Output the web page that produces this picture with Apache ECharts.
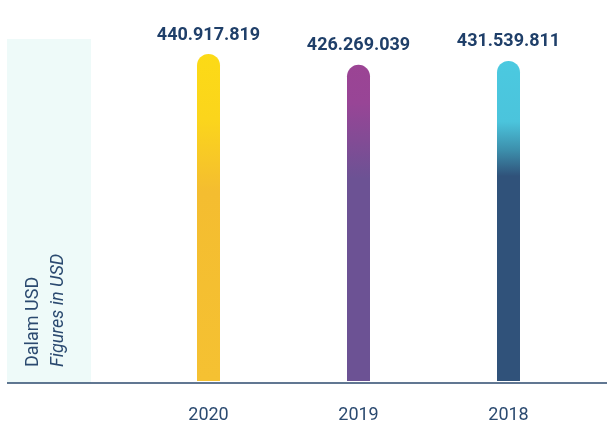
<!DOCTYPE html>
<html>
<head>
<meta charset="UTF-8">
<title>Figures in USD</title>
<script src="https://cdn.jsdelivr.net/npm/echarts@6/dist/echarts.min.js"></script>
<style>
  html, body { margin: 0; padding: 0; background: #fff; }
</style>
</head>
<body>
<div id="main" style="width: 607px;height:424px;"></div>
<script type="text/javascript">
// data
var years = ['2020', '2019', '2018'];
var values = [440917819, 426269039, 431539811];
// gradient stops per bar: [offset, colour]
var barStops = [
    [[0, '#fcda16'], [0.2, '#fbd51c'], [0.42, '#f4bd30'], [1, '#f5c132']],
    [[0, '#9b4494'], [0.12, '#984596'], [0.36, '#6c5294'], [1, '#6c5294']],
    [[0, '#4bc9e0'], [0.19, '#4bc4dc'], [0.28, '#3c8eab'], [0.36, '#30527a'], [1, '#30527a']]
];

var textBlue = '#2b4a70';

function dotted(v) {
    return String(v).replace(/\B(?=(\d{3})+(?!\d))/g, '.');
}

var barData = values.map(function (v, i) {
    return {
        value: v,
        itemStyle: {
            color: new echarts.graphic.LinearGradient(0, 0, 0, 1,
                barStops[i].map(function (s) { return { offset: s[0], color: s[1] }; }))
        }
    };
});

var myChart = echarts.init(document.getElementById('main'));

var option = {
    animation: false,
    textStyle: { fontFamily: 'Roboto' },
    grid: { left: 133.5, right: 23.5, top: 54, bottom: 41 },
    graphic: [
        // light panel on the left
        { type: 'rect', z: -1, shape: { x: 7, y: 39, width: 84, height: 344 }, style: { fill: '#eefaf9' } },
        // baseline
        { type: 'line', z: 10, shape: { x1: 7, y1: 383, x2: 607, y2: 383 }, style: { stroke: '#2d4a6e', lineWidth: 1.5 } },
        { type: 'text', x: 33, y: 367, rotation: Math.PI / 2,
          style: { text: 'Dalam USD', fill: textBlue, fontSize: 18, fontFamily: 'Roboto',
                   align: 'left', verticalAlign: 'middle' } },
        { type: 'text', x: 58, y: 367, rotation: Math.PI / 2,
          style: { text: 'Figures in USD', fill: textBlue, fontSize: 18, fontFamily: 'Roboto',
                   fontStyle: 'italic', align: 'left', verticalAlign: 'middle' } }
    ],
    xAxis: {
        type: 'category',
        data: years,
        axisLine: { show: false },
        axisTick: { show: false },
        axisLabel: { color: textBlue, fontSize: 18, margin: 25 }
    },
    yAxis: {
        type: 'value',
        min: 0,
        max: 440917819,
        show: false,
        splitLine: { show: false }
    },
    series: [{
        type: 'bar',
        data: barData,
        barWidth: 23,
        itemStyle: { borderRadius: [11.5, 11.5, 0, 0] },
        label: {
            show: true,
            position: 'top',
            distance: 10,
            color: '#1f3f69',
            fontSize: 18,
            fontWeight: 'bold',
            formatter: function (p) { return dotted(p.value); }
        }
    }]
};
myChart.setOption(option);
</script>
</body>
</html>
